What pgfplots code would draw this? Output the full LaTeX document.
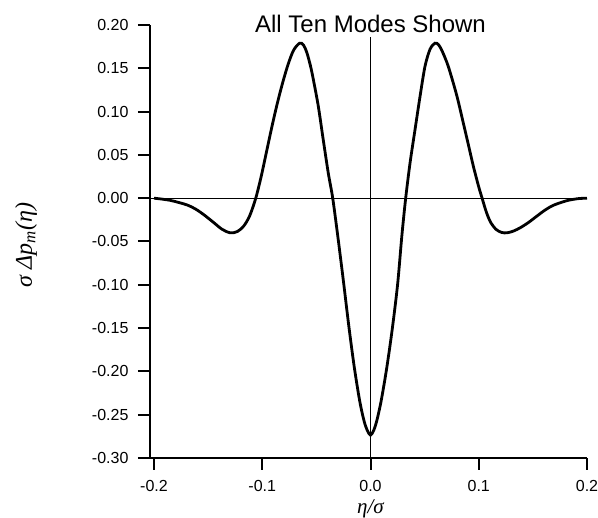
\documentclass[border=0pt]{standalone}
\usepackage{pgfplots}
\pgfplotsset{compat=1.18}
\usepackage{fontspec}
\setmainfont{Liberation Sans}
\newfontfamily\seriffont{Liberation Serif}
\begin{document}
\begin{tikzpicture}
\path[use as bounding box] (-150pt,-60pt) rectangle (448pt,458pt);
\begin{axis}[
  at={(0pt,0pt)}, anchor=south west,
  scale only axis, width=437pt, height=433pt,
  xmin=-0.2037, xmax=0.2, ymin=-0.30, ymax=0.20,
  axis x line*=bottom, axis y line*=left,
  axis line style={line width=2pt, -},
  tick align=outside, major tick length=12pt,
  tick style={line width=2pt, black},
  xtick={-0.2,-0.1,0,0.1,0.2}, xticklabels={-0.2,-0.1,0.0,0.1,0.2},
  ytick={-0.30,-0.25,-0.20,-0.15,-0.10,-0.05,0,0.05,0.10,0.15,0.20},
  yticklabels={-0.30,-0.25,-0.20,-0.15,-0.10,-0.05,0.00,0.05,0.10,0.15,0.20},
  tick label style={font=\fontsize{16}{18}\selectfont},
  yticklabel style={xshift=-6pt},
  xticklabel style={yshift=-9pt, inner sep=1pt},
  clip=false,
]
\addplot[black, line width=1.1pt] coordinates {(-0.2037,0) (0.2,0)};
\addplot[black, line width=1.1pt] coordinates {(0,-0.30) (0,0.186)};
\addplot[black, line width=2.8pt, smooth, tension=0.5] coordinates {
(-0.200,0.000) (-0.193,-0.001) (-0.185,-0.0025) (-0.177,-0.005) (-0.169,-0.008)
(-0.161,-0.013) (-0.153,-0.020) (-0.145,-0.028) (-0.137,-0.036) (-0.1295,-0.040)
(-0.123,-0.0385) (-0.117,-0.032) (-0.1115,-0.020) (-0.106,0.000) (-0.101,0.025)
(-0.096,0.054) (-0.091,0.083) (-0.086,0.110) (-0.081,0.134) (-0.076,0.155)
(-0.071,0.171) (-0.0655,0.179) (-0.062,0.177) (-0.0589,0.1685) (-0.0555,0.153)
(-0.0528,0.137) (-0.0482,0.106) (-0.0436,0.067) (-0.039,0.029) (-0.0349,0.000)
(-0.030,-0.046) (-0.025,-0.096) (-0.020,-0.148) (-0.015,-0.195) (-0.010,-0.234)
(-0.006,-0.257) (-0.003,-0.268) (0.000,-0.2735) (0.003,-0.268) (0.006,-0.256)
(0.010,-0.233) (0.015,-0.196) (0.020,-0.152) (0.025,-0.100) (0.029,-0.043)
(0.0325,0.000) (0.0365,0.0404) (0.0411,0.0789) (0.0457,0.117) (0.0503,0.152)
(0.055,0.172) (0.0596,0.179) (0.063,0.177) (0.0665,0.169) (0.0719,0.152)
(0.0796,0.119) (0.0857,0.087) (0.090,0.064) (0.095,0.037) (0.100,0.013)
(0.1031,0.000) (0.107,-0.016) (0.111,-0.028) (0.116,-0.036) (0.121,-0.0395)
(0.126,-0.040) (0.132,-0.038) (0.1385,-0.034) (0.146,-0.028) (0.1539,-0.0205)
(0.1615,-0.0135) (0.1693,-0.008) (0.1816,-0.0028) (0.1920,-0.0005) (0.200,0.000)
};
\node[anchor=base, font=\fontsize{24}{28}\selectfont] at (axis cs:0,0.1918) {All Ten Modes Shown};
\end{axis}
\node[rotate=90, font=\fontsize{24}{28}\selectfont] at (-124pt,213pt) {\seriffont\itshape σ Δp\textsubscript{m}(η)};
\node[anchor=base, font=\fontsize{21}{25}\selectfont, inner sep=1pt] at (220.5pt,-56pt) {\seriffont\itshape η/σ};
\end{tikzpicture}
\end{document}
